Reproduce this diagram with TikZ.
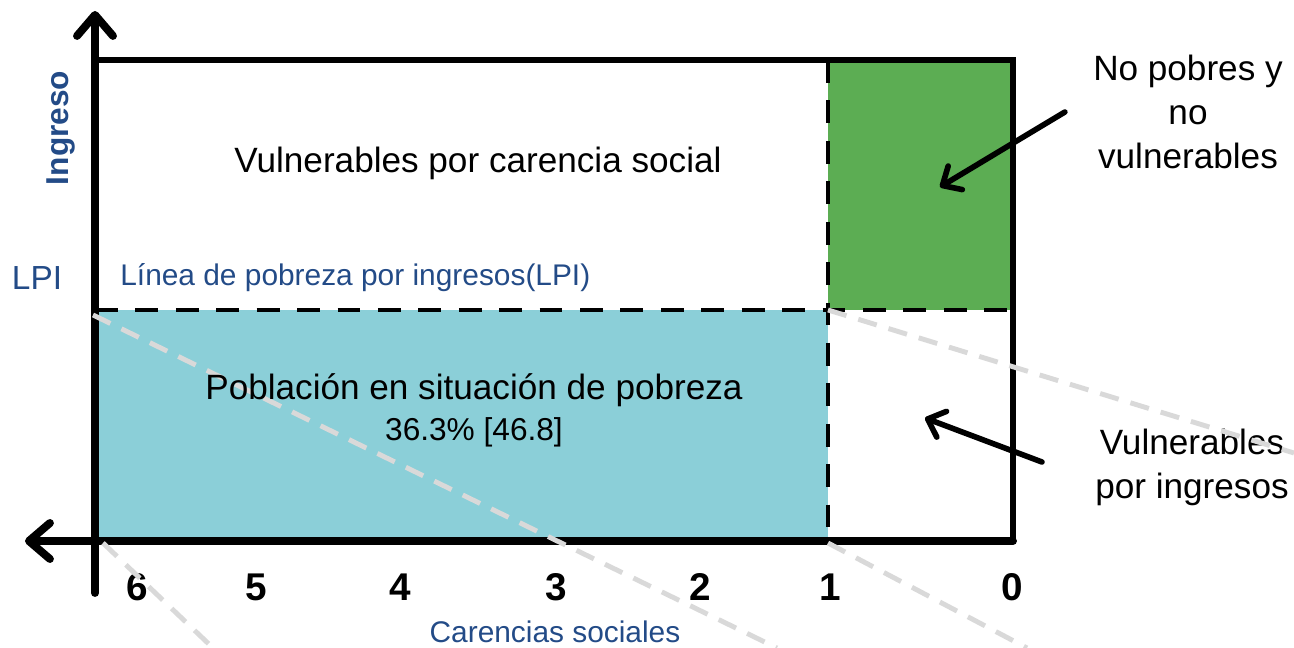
\documentclass[tikz,border=0pt]{standalone}
\usepackage{fontspec}
\setmainfont{Liberation Sans}
\usepackage{tikz}
\usetikzlibrary{arrows.meta}

\definecolor{lpiblue}{RGB}{35,75,135}
\definecolor{poorcyan}{RGB}{139,207,216}
\definecolor{safegreen}{RGB}{92,173,83}
\definecolor{ghost}{RGB}{217,217,217}

\begin{document}
\begin{tikzpicture}[
	axis/.style={line width=4.5pt, line cap=round, -{Straight Barb[length=0.42cm,width=0.72cm,line cap=round,line join=round]}},
	frame/.style={line width=3.2pt},
	cut/.style={line width=2.8pt, dash pattern=on 13pt off 10pt},
	ghostline/.style={ghost, line width=2.8pt, dash pattern=on 11pt off 7pt},
	pointer/.style={line width=3.2pt, line cap=round, -{Straight Barb[length=0.3cm,width=0.55cm,line cap=round,line join=round]}},
	region/.style={inner sep=0pt, align=center, font=\fontsize{20}{25}\selectfont},
	bluelbl/.style={inner sep=0pt, text=lpiblue},
	num/.style={inner sep=0pt, font=\fontsize{22}{22}\selectfont\bfseries}
]
		\useasboundingbox (0,0) rectangle (25.88,12.96);

		% fill the two areas
		\fill[poorcyan] (1.9,2.14) rectangle (16.56,6.76);
		\fill[safegreen] (16.56,6.76) rectangle (20.26,11.76);

		% draw frame and cutting lines
		\draw[frame] (1.9,11.76) -- (20.26,11.76) -- (20.26,2.14);
		\draw[cut] (1.9,6.76) -- (20.26,6.76);
		\draw[cut] (16.56,11.76) -- (16.56,2.14);

		% draw axes
		\draw[axis] (1.9,1.1) -- (1.9,12.74);
		\draw[axis] (20.26,2.14) -- (0.5,2.14);

		% draw axis labels
		\node[bluelbl, rotate=90, font=\fontsize{18}{18}\selectfont\bfseries] (ingreso) at (1.22,10.4) {Ingreso};
		\node[bluelbl, font=\fontsize{19}{19}\selectfont] (lpi) at (0.74,7.4) {LPI};
		\node[bluelbl, anchor=west, font=\fontsize{17}{17}\selectfont] (linea) at (2.4,7.4) {Línea de pobreza por ingresos(LPI)};
		\node[bluelbl, font=\fontsize{17}{17}\selectfont] (carencias) at (11.1,0.32) {Carencias sociales};
		\foreach \n/\x in {6/2.74,5/5.12,4/8.0,3/11.12,2/14.0,1/16.6,0/20.24}
			\node[num] (n\n) at (\x,1.22) {\n};

		% draw labels on the right
		\node[region] (vulcar) at (9.56,9.7) {Vulnerables por carencia social};
		\node[region] (nopobres) at (23.76,10.72) {No pobres y\\no\\vulnerables};
		\node[region] (vuling) at (23.84,3.62) {Vulnerables\\por ingresos};

		% draw pointers
		\coordinate (greentip) at (18.8,9.22);
		\coordinate (whitetip) at (18.5,4.6);
		\draw[pointer] ([xshift=-0.56cm]nopobres.west) -- (greentip);
		\draw[pointer] ([xshift=-1.06cm,yshift=0.1cm]vuling.west) -- (whitetip);

		% draw grey zoom lines
		\draw[ghostline] (1.86,6.66) -- (15.54,0);
		\draw[ghostline] (2.06,2.1) -- (4.26,0);
		\draw[ghostline] (16.56,6.76) -- (25.88,3.9);
		\draw[ghostline] (16.56,2.1) -- (20.54,0);

		% draw poverty label
		\node[region] (pobreza) at (9.48,5.16) {Población en situación de pobreza};
		\node[region, font=\fontsize{18}{18}\selectfont] (pct) at (9.48,4.32) {36.3\% [46.8]};
	\end{tikzpicture}
\end{document}
